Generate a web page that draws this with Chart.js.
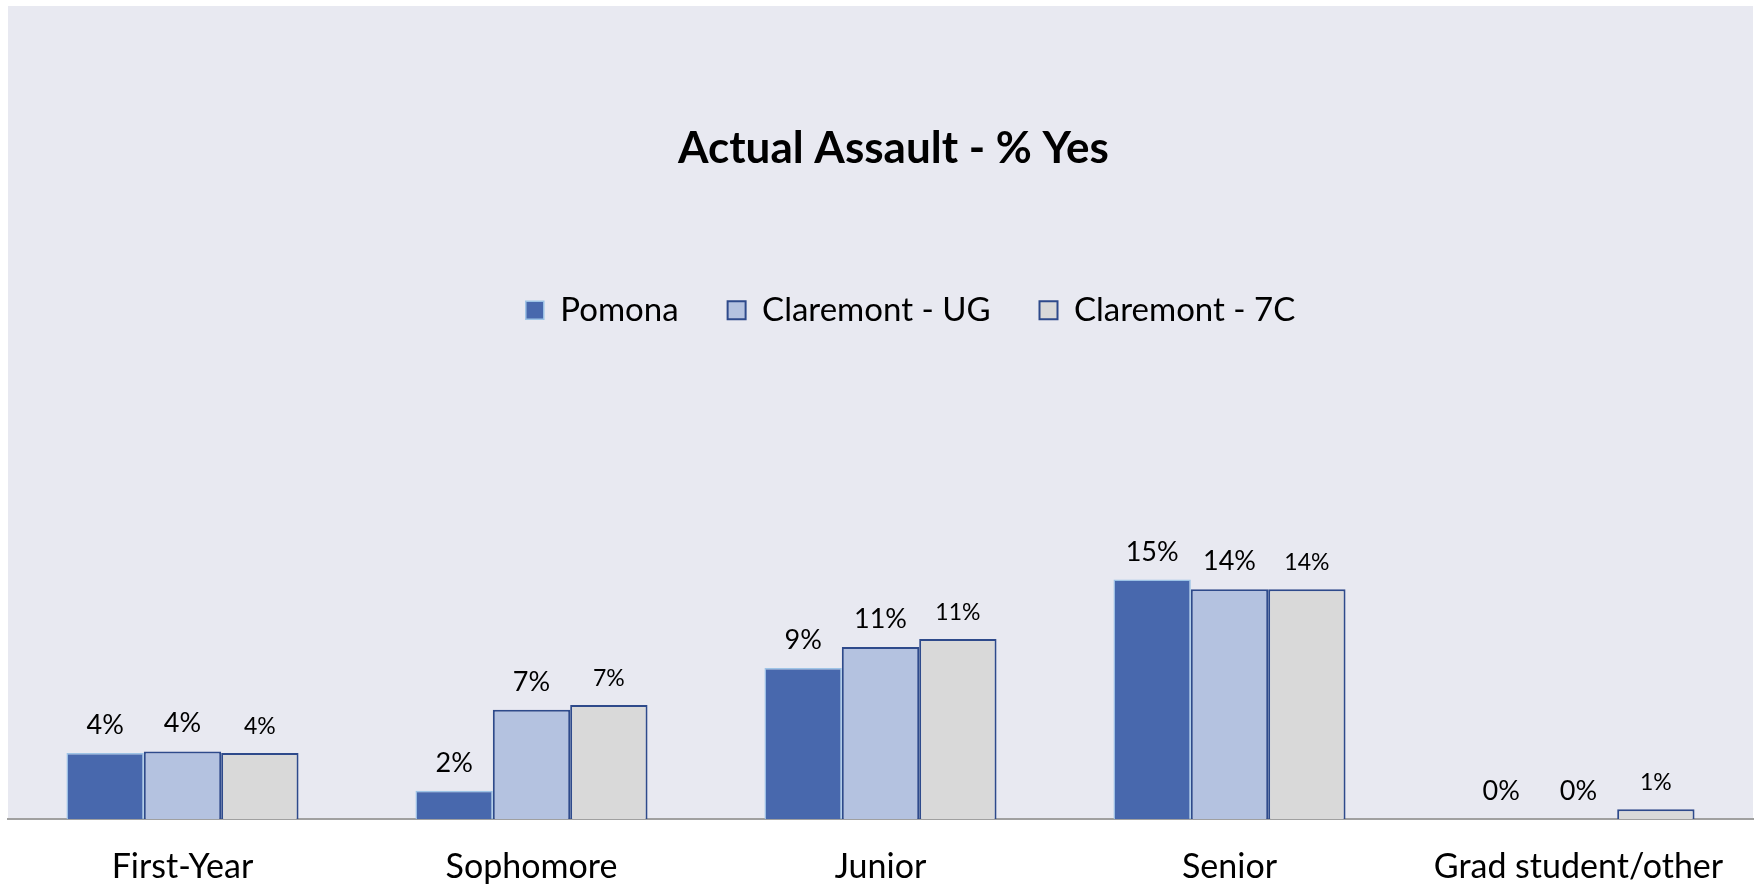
<!DOCTYPE html>
<html>
<head>
<meta charset="utf-8">
<title>Actual Assault - % Yes</title>
<script src="https://cdn.jsdelivr.net/npm/chart.js@4/dist/chart.umd.min.js"></script>
<style>
    html, body { margin: 0; padding: 0; background: #ffffff; }
    #wrap { width: 1758px; height: 887px; }
</style>
</head>
<body>
<div id="wrap"><canvas id="assaultChart" width="1758" height="887"></canvas></div>
<script>
// ===== Data =====
const categories = ["First-Year", "Sophomore", "Junior", "Senior", "Grad student/other"];
const seriesNames = ["Pomona", "Claremont - UG", "Claremont - 7C"];
const pomona = [4.1, 1.75, 9.4, 14.9, 0];
const claremontUG = [4.2, 6.8, 10.7, 14.3, 0];
const claremont7C = [4.1, 7.1, 11.2, 14.3, 0.6];
const yMax = 30;

// ===== Styles =====
const PANEL_BG = "#e8e9f1";
const fills = ["#4868ad", "#b4c2e0", "#d9d9d9"];
const borders = ["#9dc3e6", "#2e4a8b", "#2e4a8b"];
const borderWidths = [1.5, 2, 2];
const labelSizes = [27, 27, 23];
const FONT = "Lato, 'Open Sans', sans-serif";

// ===== Panel background (lavender behind plot, white below axis) =====
const panelBg = {
    id: "panelBg",
    beforeDraw(chart) {
        const { ctx, chartArea } = chart;
        ctx.save();
        ctx.fillStyle = "#ffffff";
        ctx.fillRect(0, 0, chart.width, chart.height);
        ctx.fillStyle = PANEL_BG;
        ctx.fillRect(8, 6, 1745, chartArea.bottom - 6);
        ctx.restore();
    }
};

// ===== Title / legend sit a bit right of centre in the original =====
const nudgeHeader = {
    id: "nudgeHeader",
    afterLayout(chart) {
        if (chart.titleBlock) chart.titleBlock.left += 26;
        if (chart.legend) chart.legend.left += 60;
    }
};

// ===== Value labels above bars =====
const valueLabels = {
    id: "valueLabels",
    afterDatasetsDraw(chart) {
        const { ctx } = chart;
        ctx.save();
        ctx.fillStyle = "#000000";
        ctx.textAlign = "center";
        ctx.textBaseline = "alphabetic";
        chart.data.datasets.forEach((ds, i) => {
            ctx.font = `${labelSizes[i]}px ${FONT}`;
            chart.getDatasetMeta(i).data.forEach((bar, j) => {
                ctx.fillText(Math.round(ds.data[j]) + "%", bar.x, bar.y - 19);
            });
        });
        ctx.restore();
    }
};

const seriesData = [pomona, claremontUG, claremont7C];

new Chart(document.getElementById("assaultChart"), {
    type: "bar",
    data: {
        labels: categories,
        datasets: seriesNames.map((name, i) => ({
            label: name,
            data: seriesData[i],
            backgroundColor: fills[i],
            borderColor: borders[i],
            borderWidth: borderWidths[i],
            categoryPercentage: 0.665,
            barPercentage: 1
        }))
    },
    options: {
        responsive: false,
        animation: false,
        layout: { padding: { top: 6, left: 8, right: 5, bottom: 0 } },
        plugins: {
            title: {
                display: true,
                text: "Actual Assault - % Yes",
                color: "#000000",
                font: { family: FONT, size: 44, weight: "bold" },
                padding: { top: 116, bottom: 70 }
            },
            legend: {
                display: true,
                labels: {
                    color: "#000000",
                    font: { family: FONT, size: 33 },
                    boxWidth: 18,
                    boxHeight: 18,
                    padding: 49
                }
            },
            tooltip: { enabled: false }
        },
        scales: {
            x: {
                grid: { display: false, drawTicks: false },
                border: { display: true, color: "#a0a0a0", width: 2 },
                ticks: {
                    color: "#000000",
                    font: { family: FONT, size: 34 },
                    padding: 28,
                    maxRotation: 0,
                    autoSkip: false
                },
                afterFit(scale) {
                    scale.height = 68;
                }
            },
            y: {
                display: false,
                min: 0,
                max: yMax
            }
        }
    },
    plugins: [panelBg, nudgeHeader, valueLabels]
});
</script>
</body>
</html>
